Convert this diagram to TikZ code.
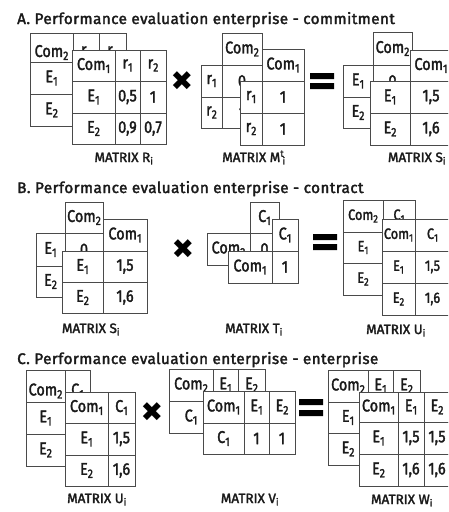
\documentclass[tikz,border=0pt]{standalone}
\usepackage{fontspec}
\usepackage{graphicx}
\setmainfont{Fira Sans}
\newfontfamily\symfont{DejaVu Sans}
\newfontfamily\medfont{Fira Sans}[FakeBold=2.2]
\newfontfamily\ttlfont{Fira Sans}[FakeBold=2.2,LetterSpace=2.7]
\newfontfamily\cellfont{Fira Sans}[FakeBold=1.8,FakeStretch=0.85]
\definecolor{linegray}{HTML}{4A4A4A}
\definecolor{textblack}{HTML}{1A1A1A}
\newcommand\cel[6]{\node[cellbox, minimum width={(#4-#2)*1pt}, minimum height={(#5-#3)*1pt}] (#1) at ({(#2+#4)/2},{(#3+#5)/2}) {#6};}
\newcommand\sub[1]{\raisebox{-0.18em}{\scalebox{0.72}{#1}}}
\newcommand\lsub[1]{\textsubscript{#1}}
\newcommand\low[1]{\raisebox{-5pt}[\height][\depth]{#1}}
\begin{document}
\begin{tikzpicture}[x=1pt,y=-1pt,
  cellbox/.style={draw=linegray, line width=1pt, fill=white, inner sep=0pt, text=textblack, font=\cellfont\fontsize{17}{17}\selectfont},
  ttl/.style={anchor=base west, inner sep=0pt, text=textblack, font=\ttlfont\fontsize{15.3}{17}\selectfont},
  lbl/.style={anchor=base, inner sep=0pt, text=textblack, font=\medfont\fontsize{13.5}{15}\selectfont},
  times/.style={inner sep=0pt, text=black, font=\symfont\fontsize{27}{27}\selectfont},
  eqbar/.style={fill=black}]
\useasboundingbox (0,0) rectangle (448,512);
\clip (0,0) rectangle (448,512);
% ---------- A ----------
\node[ttl] (tA) at (17,24) {A. Performance evaluation enterprise - commitment};
% R back
\cel{rb1}{30}{33}{73}{62}{\low{Com\sub{2}}}
\cel{rb2}{73}{33}{99}{62}{\low{r\sub{1}}}
\cel{rb3}{99}{33}{126}{62}{\low{r\sub{2}}}
\cel{rb4}{30}{62}{73}{94}{E\sub{1}}
\cel{rb5}{73}{62}{99}{94}{}
\cel{rb6}{99}{62}{126}{94}{}
\cel{rb7}{30}{94}{73}{126}{E\sub{2}}
\cel{rb8}{73}{94}{99}{126}{}
\cel{rb9}{99}{94}{126}{126}{}
% R front
\cel{rf1}{72}{50}{115}{81}{Com\sub{1}}
\cel{rf2}{115}{50}{140}{81}{r\sub{1}}
\cel{rf3}{140}{50}{166}{81}{r\sub{2}}
\cel{rf4}{72}{81}{115}{113}{E\sub{1}}
\cel{rf5}{115}{81}{140}{113}{0,5}
\cel{rf6}{140}{81}{166}{113}{1}
\cel{rf7}{72}{113}{115}{144}{E\sub{2}}
\cel{rf8}{115}{113}{140}{144}{0,9}
\cel{rf9}{140}{113}{166}{144}{0,7}
\node[lbl] (lR) at (124,162) {MATRIX R\lsub{i}};
\node[times] (xA) at (182,81) {✖};
\fill[eqbar] (310,73) rectangle (334,79) (310,83) rectangle (334,89);
% M back
\cel{mb1}{222}{33}{262}{65}{Com\sub{2}}
\cel{mb2}{201}{65}{222}{97}{r\sub{1}}
\cel{mb3}{222}{65}{262}{97}{0}
\cel{mb4}{201}{97}{222}{128}{r\sub{2}}
\cel{mb5}{222}{97}{262}{128}{1}
% M front
\cel{mf1}{262}{49}{304}{81}{Com\sub{1}}
\cel{mf2}{240}{81}{262}{113}{r\sub{1}}
\cel{mf3}{262}{81}{304}{113}{1}
\cel{mf4}{240}{113}{262}{145}{r\sub{2}}
\cel{mf5}{262}{113}{304}{145}{1}
\node[lbl] (lM) at (254,162) {MATRIX M\textsuperscript{t}\kern-0.12em\lsub{i}};
% S back
\cel{sb1}{373}{32}{412}{65}{Com\sub{2}}
\cel{sb2}{343}{65}{373}{97}{E\sub{1}}
\cel{sb3}{373}{65}{412}{97}{0}
\cel{sb4}{343}{97}{373}{128}{E\sub{2}}
\cel{sb5}{373}{97}{412}{128}{}
% S front
\cel{sf1}{410}{50}{452}{81}{Com\sub{1}}
\cel{sf2}{370}{81}{410}{113}{E\sub{1}}
\cel{sf3}{410}{81}{452}{113}{1,5}
\cel{sf4}{370}{113}{410}{145}{E\sub{2}}
\cel{sf5}{410}{113}{452}{145}{1,6}
\node[lbl] (lS) at (417,162) {MATRIX S\lsub{i}};
% ---------- B ----------
\node[ttl] (tB) at (17,193) {B. Performance evaluation enterprise - contract};
% S back
\cel{tsb1}{65}{202}{103}{233}{Com\sub{2}}
\cel{tsb2}{36}{233}{65}{266}{E\sub{1}}
\cel{tsb3}{65}{233}{103}{266}{0}
\cel{tsb4}{36}{266}{65}{297}{E\sub{2}}
\cel{tsb5}{65}{266}{103}{297}{}
% S front
\cel{tsf1}{103}{219}{147}{251}{Com\sub{1}}
\cel{tsf2}{62}{251}{103}{282}{E\sub{1}}
\cel{tsf3}{103}{251}{147}{282}{1,5}
\cel{tsf4}{62}{282}{103}{313}{E\sub{2}}
\cel{tsf5}{103}{282}{147}{313}{1,6}
\node[lbl] (lS2) at (91,333) {MATRIX S\lsub{i}};
\node[times] (xB) at (183,249) {✖};
% T back
\cel{tb1}{250}{202}{279}{233}{C\sub{1}}
\cel{tb2}{207}{233}{250}{265}{Com\sub{2}}
\cel{tb3}{250}{233}{279}{265}{0}
% T front
\cel{tf1}{272}{219}{298}{251}{C\sub{1}}
\cel{tf2}{228}{251}{272}{283}{Com\sub{1}}
\cel{tf3}{272}{251}{298}{283}{1}
\node[lbl] (lT) at (254,333) {MATRIX T\lsub{i}};
\fill[eqbar] (313,234) rectangle (337,240) (313,244) rectangle (337,250);
\begin{scope}[cellbox/.append style={font=\cellfont\fontsize{15}{15}\selectfont}]
% U back
\cel{ub1}{343}{200}{383}{232}{Com\sub{2}}
\cel{ub2}{383}{200}{415}{232}{C\sub{1}}
\cel{ub3}{343}{232}{383}{263}{E\sub{1}}
\cel{ub4}{383}{232}{415}{263}{}
\cel{ub5}{343}{263}{383}{295}{E\sub{2}}
\cel{ub6}{383}{263}{415}{295}{}
% U front
\cel{uf1}{382}{219}{415}{251}{Com\sub{1}}
\cel{uf2}{415}{219}{450}{251}{C\sub{1}}
\cel{uf3}{382}{251}{415}{283}{E\sub{1}}
\cel{uf4}{415}{251}{450}{283}{1,5}
\cel{uf5}{382}{283}{415}{315}{E\sub{2}}
\cel{uf6}{415}{283}{450}{315}{1,6}
\end{scope}
\node[lbl] (lU) at (396,334) {MATRIX U\lsub{i}};
% ---------- C ----------
\node[ttl] (tC) at (17,364) {C. Performance evaluation enterprise - enterprise};
% U back
\cel{cub1}{26}{370}{65}{402}{\low{Com\sub{2}}}
\cel{cub2}{65}{370}{90}{402}{\low{C\sub{1}}}
\cel{cub3}{26}{402}{65}{434}{E\sub{1}}
\cel{cub4}{65}{402}{90}{434}{}
\cel{cub5}{26}{434}{65}{466}{E\sub{2}}
\cel{cub6}{65}{434}{90}{466}{}
% U front
\cel{cuf1}{65}{392}{108}{423}{Com\sub{1}}
\cel{cuf2}{108}{392}{135}{423}{C\sub{1}}
\cel{cuf3}{65}{423}{108}{455}{E\sub{1}}
\cel{cuf4}{108}{423}{135}{455}{1,5}
\cel{cuf5}{65}{455}{108}{486}{E\sub{2}}
\cel{cuf6}{108}{455}{135}{486}{1,6}
\node[lbl] (lU2) at (97,503) {MATRIX U\lsub{i}};
\node[times] (xC) at (152,412) {✖};
% V back
\cel{vb1}{169}{369}{213}{401}{Com\sub{2}}
\cel{vb2}{213}{369}{238}{401}{E\sub{1}}
\cel{vb3}{238}{369}{265}{401}{E\sub{2}}
\cel{vb4}{169}{401}{213}{433}{C\sub{1}}
\cel{vb5}{213}{401}{238}{433}{}
\cel{vb6}{238}{401}{265}{433}{}
% V front
\cel{vf1}{203}{391}{244}{423}{Com\sub{1}}
\cel{vf2}{244}{391}{269}{423}{E\sub{1}}
\cel{vf3}{269}{391}{295}{423}{E\sub{2}}
\cel{vf4}{203}{423}{244}{454}{C\sub{1}}
\cel{vf5}{244}{423}{269}{454}{1}
\cel{vf6}{269}{423}{295}{454}{1}
\node[lbl] (lV) at (250,503) {MATRIX V\lsub{i}};
\fill[eqbar] (299,399) rectangle (323,405) (299,410) rectangle (323,416);
% W back
\cel{wb1}{328}{370}{368}{402}{Com\sub{2}}
\cel{wb2}{368}{370}{393}{402}{E\sub{1}}
\cel{wb3}{393}{370}{420}{402}{E\sub{2}}
\cel{wb4}{328}{402}{368}{433}{E\sub{1}}
\cel{wb5}{368}{402}{393}{433}{}
\cel{wb6}{393}{402}{420}{433}{}
\cel{wb7}{328}{433}{368}{465}{E\sub{2}}
\cel{wb8}{368}{433}{393}{465}{}
\cel{wb9}{393}{433}{420}{465}{}
% W front
\cel{wf1}{359}{392}{398}{422}{Com\sub{1}}
\cel{wf2}{398}{392}{424}{422}{E\sub{1}}
\cel{wf3}{424}{392}{450}{422}{E\sub{2}}
\cel{wf4}{359}{422}{398}{454}{E\sub{1}}
\cel{wf5}{398}{422}{424}{454}{1,5}
\cel{wf6}{424}{422}{450}{454}{1,5}
\cel{wf7}{359}{454}{398}{486}{E\sub{2}}
\cel{wf8}{398}{454}{424}{486}{1,6}
\cel{wf9}{424}{454}{450}{486}{1,6}
\node[lbl] (lW) at (402,504) {MATRIX W\lsub{i}};
\end{tikzpicture}
\end{document}
